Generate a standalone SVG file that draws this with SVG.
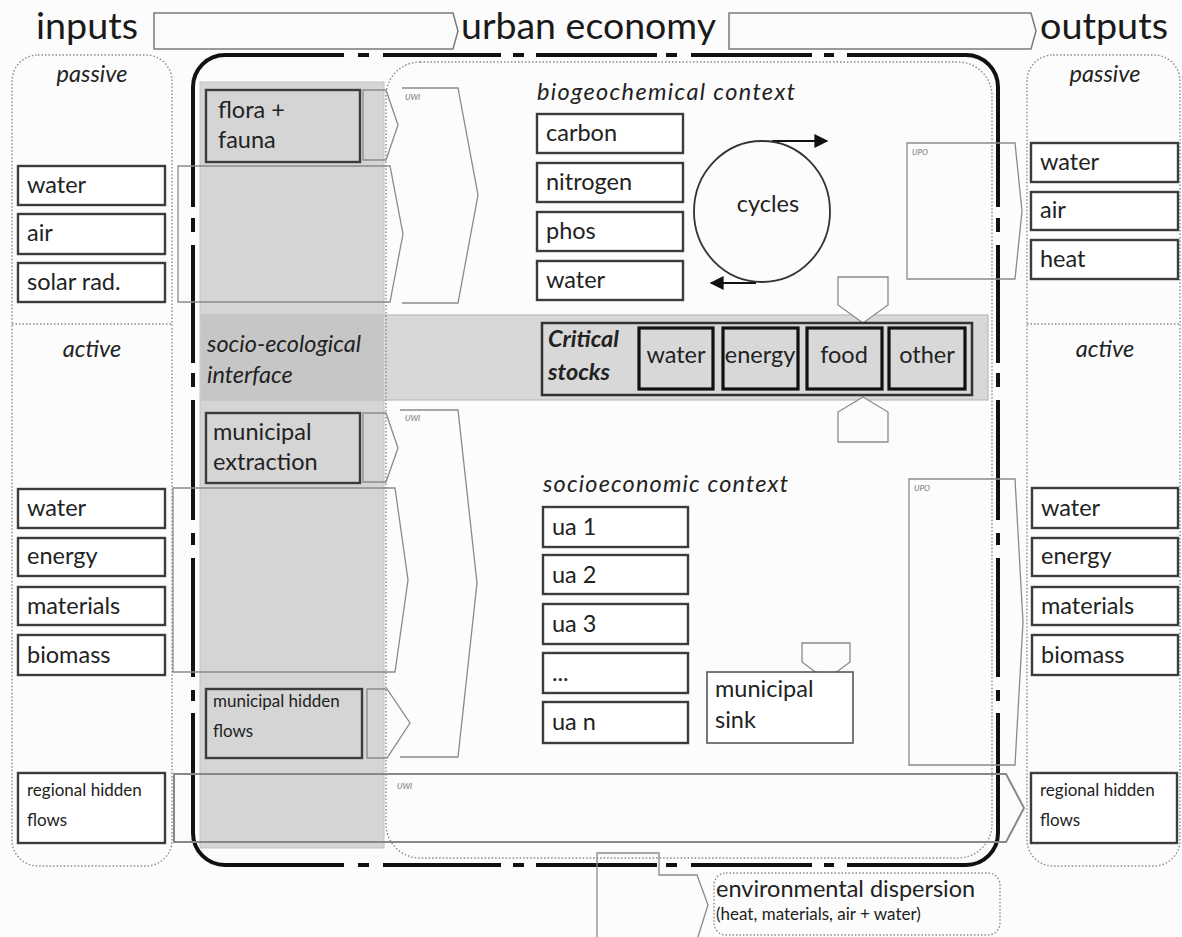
<svg xmlns="http://www.w3.org/2000/svg" width="1182" height="937" viewBox="0 0 1182 937">
<style>
.lbl{font-family:Lato,"Open Sans",sans-serif;font-size:23.5px;fill:#222}
.it{font-style:italic}
.bi{font-style:italic;font-weight:bold}
.sm{font-size:17px}
.hdr{font-size:36px;fill:#1a1a1a}
.tiny{font-family:Lato,sans-serif;font-size:8px;font-style:italic;fill:#777}
.box{fill:#fff;stroke:#3c3c3c;stroke-width:2.4}
.gbox{fill:none;stroke:#3c3c3c;stroke-width:2.4}
.stock{fill:none;stroke:#111;stroke-width:3.2}
.flow{fill:none;stroke:#8a8a8a;stroke-width:1.3}
.hflow{fill:#fbfbfb;stroke:#7a7a7a;stroke-width:1.5}
.dot{fill:none;stroke:#8a8a8a;stroke-width:1.4;stroke-dasharray:1.5 2}
.thick{fill:none;stroke:#111;stroke-width:4}
</style>
<defs>
<marker id="ah" viewBox="0 0 10 10" refX="9" refY="5" markerWidth="18" markerHeight="14" markerUnits="userSpaceOnUse" orient="auto">
<path d="M0,0 L10,5 L0,10 Z" fill="#111"/>
</marker>
</defs>
<rect width="1182" height="937" fill="#fcfcfc"/>

<!-- gray areas -->
<rect x="200" y="82" width="184" height="766" fill="#d5d5d5" stroke="#c2c2c2" stroke-width="1"/>
<rect x="202" y="315" width="786" height="85" fill="#d8d8d8" stroke="#bcbcbc" stroke-width="1.2"/>
<rect x="202" y="315" width="182" height="85" fill="#c6c6c6"/>

<!-- frames -->
<g id="frames">
<rect x="12" y="55" width="160" height="811" rx="26" class="dot"/>
<rect x="1027" y="55" width="153" height="811" rx="26" class="dot"/>
<line x1="12" y1="324" x2="172" y2="324" class="dot"/>
<line x1="1027" y1="324" x2="1180" y2="324" class="dot"/>
<rect x="386" y="62" width="606" height="796" rx="34" class="dot"/>
<rect x="714" y="873" width="286" height="62" rx="12" class="dot"/>
</g>

<g id="urban-economy-frame" class="thick">
<path d="M193,207 V87 A32,32 0 0 1 225,55 H344"/>
<path d="M358,55 H369 M383,55 H501 M513,55 H524 M536,55 H657 M666,55 H677 M691,55 H812 M824,55 H834"/>
<path d="M847,55 H966 A32,32 0 0 1 998,87 V207"/>
<path d="M998,218 V232 M998,245 V363 M998,373 V387 M998,400 V520 M998,533 V545 M998,558 V677 M998,690 V701"/>
<path d="M998,713 V833 A32,32 0 0 1 966,865 H847"/>
<path d="M834,865 H824 M812,865 H691 M677,865 H666 M657,865 H536 M524,865 H513 M501,865 H383 M369,865 H358"/>
<path d="M344,865 H225 A32,32 0 0 1 193,833 V713"/>
<path d="M193,701 V690 M193,677 V558 M193,545 V533 M193,520 V400 M193,387 V373 M193,363 V245 M193,232 V218"/>
</g>

<!-- connectors / flows -->
<g id="connectors">
<polygon class="hflow" points="154,13 453,13 458,31 453,49 154,49"/>
<polygon class="hflow" points="729,13 1031,13 1036,31 1031,49 729,49"/>
<polygon class="flow" points="178,166 390,166 403,234 390,302 178,302"/>
<polygon class="flow" points="363,90 386,90 398,125 386,160 363,160"/>
<polyline class="flow" points="402,88 458,88 478,195 458,303 402,303"/>
<polygon class="flow" points="173,488 395,488 408,580 395,672 173,672"/>
<polygon class="flow" points="363,413 386,413 398,448 386,482 363,482"/>
<polygon class="flow" points="367,689 387,689 410,723 387,758 367,758"/>
<polyline class="flow" points="400,410 458,410 477,583 458,757 400,757"/>
<polygon class="flow" style="stroke-width:2;stroke:#888" points="174,774 1006,774 1024,808 1006,842 174,842"/>
<polygon class="flow" points="907,143 1015,143 1022,211 1015,279 907,279"/>
<polygon class="flow" points="909,479 1015,479 1023,622 1015,765 909,765"/>
<polygon class="flow" style="fill:#fcfcfc" points="838,277 888,277 888,305 863,323 838,305"/>
<polygon class="flow" style="fill:#fcfcfc" points="863,397 888,412 888,442 838,442 838,412"/>
<path class="flow" d="M802,643 H850 V662 L838,671 Q826,678 814,671 L802,662 Z"/>
<polygon class="flow" points="597,853 659,853 659,875 697,875 708,905 697,940 597,940"/>
<line x1="772" y1="141" x2="827" y2="141" stroke="#111" stroke-width="1.8" marker-end="url(#ah)"/>
<line x1="756" y1="283" x2="711" y2="283" stroke="#111" stroke-width="1.8" marker-end="url(#ah)"/>
<text class="tiny" x="405" y="100">UWI</text>
<text class="tiny" x="405" y="421">UWI</text>
<text class="tiny" x="397" y="789">UWI</text>
<text class="tiny" x="912" y="155">UPO</text>
<text class="tiny" x="914" y="491">UPO</text>
</g>

<!-- header -->
<g id="header">
<text class="lbl hdr" x="36" y="39" textLength="102" lengthAdjust="spacingAndGlyphs">inputs</text>
<text class="lbl hdr" x="461" y="39" textLength="255" lengthAdjust="spacingAndGlyphs">urban economy</text>
<text class="lbl hdr" x="1040" y="39" textLength="128" lengthAdjust="spacingAndGlyphs">outputs</text>
</g>

<!-- left column -->
<g id="in-passive-label"><text class="lbl it" x="92" y="82" text-anchor="middle">passive</text></g>
<g id="in-water"><rect class="box" x="18" y="166" width="147" height="39"/><text class="lbl" x="27" y="193">water</text></g>
<g id="in-air"><rect class="box" x="18" y="214" width="147" height="40"/><text class="lbl" x="27" y="241">air</text></g>
<g id="in-solar"><rect class="box" x="18" y="263" width="147" height="39"/><text class="lbl" x="27" y="290">solar rad.</text></g>
<g id="in-active-label"><text class="lbl it" x="92" y="357" text-anchor="middle">active</text></g>
<g id="in-water2"><rect class="box" x="18" y="489" width="147" height="39"/><text class="lbl" x="27" y="516">water</text></g>
<g id="in-energy"><rect class="box" x="18" y="538" width="147" height="38"/><text class="lbl" x="27" y="564">energy</text></g>
<g id="in-materials"><rect class="box" x="18" y="587" width="147" height="38"/><text class="lbl" x="27" y="614">materials</text></g>
<g id="in-biomass"><rect class="box" x="18" y="635" width="147" height="40"/><text class="lbl" x="27" y="663">biomass</text></g>
<g id="in-regional"><rect class="box" x="18" y="773" width="147" height="70"/><text class="lbl sm" x="27" y="796">regional hidden</text><text class="lbl sm" x="27" y="826">flows</text></g>

<!-- gray column boxes -->
<g id="flora"><rect class="gbox" x="206" y="90" width="154" height="72"/><text class="lbl" x="218" y="118">flora +</text><text class="lbl" x="218" y="148">fauna</text></g>
<g id="interface"><text class="lbl it" x="207" y="352">socio-ecological</text><text class="lbl it" x="207" y="383">interface</text></g>
<g id="extraction"><rect class="gbox" x="206" y="413" width="154" height="70"/><text class="lbl" x="213" y="440">municipal</text><text class="lbl" x="213" y="470">extraction</text></g>
<g id="hidden"><rect class="gbox" x="206" y="689" width="156" height="69"/><text class="lbl sm" x="213" y="707">municipal hidden</text><text class="lbl sm" x="213" y="737">flows</text></g>

<!-- biogeochemical -->
<g id="bio-title"><text class="lbl it" x="537" y="100" textLength="258" lengthAdjust="spacing">biogeochemical  context</text></g>
<g id="carbon"><rect class="box" x="537" y="114" width="146" height="39"/><text class="lbl" x="546" y="141">carbon</text></g>
<g id="nitrogen"><rect class="box" x="537" y="163" width="146" height="39"/><text class="lbl" x="546" y="190">nitrogen</text></g>
<g id="phos"><rect class="box" x="537" y="212" width="146" height="39"/><text class="lbl" x="546" y="239">phos</text></g>
<g id="bwater"><rect class="box" x="537" y="261" width="146" height="39"/><text class="lbl" x="546" y="288">water</text></g>
<g id="cycles"><ellipse cx="762" cy="211.5" rx="68" ry="70.5" fill="none" stroke="#333" stroke-width="1.8"/><text class="lbl" x="768" y="212" text-anchor="middle">cycles</text></g>

<!-- critical stocks -->
<g id="critical-stocks">
<rect x="542" y="323" width="430" height="72" fill="none" stroke="#333" stroke-width="2.5"/>
<text class="lbl bi" x="548" y="347">Critical</text><text class="lbl bi" x="548" y="380">stocks</text>
</g>
<g id="cs-water"><rect class="stock" x="639" y="328" width="74" height="61"/><text class="lbl" x="676" y="363" text-anchor="middle">water</text></g>
<g id="cs-energy"><rect class="stock" x="723" y="328" width="75" height="61"/><text class="lbl" x="760" y="363" text-anchor="middle">energy</text></g>
<g id="cs-food"><rect class="stock" x="807" y="328" width="75" height="61"/><text class="lbl" x="844" y="363" text-anchor="middle">food</text></g>
<g id="cs-other"><rect class="stock" x="889" y="328" width="76" height="61"/><text class="lbl" x="927" y="363" text-anchor="middle">other</text></g>

<!-- socioeconomic -->
<g id="socio-title"><text class="lbl it" x="543" y="492" textLength="245" lengthAdjust="spacing">socioeconomic  context</text></g>
<g id="ua1"><rect class="box" x="543" y="507" width="145" height="40"/><text class="lbl" x="552" y="535">ua 1</text></g>
<g id="ua2"><rect class="box" x="543" y="555" width="145" height="39"/><text class="lbl" x="552" y="583">ua 2</text></g>
<g id="ua3"><rect class="box" x="543" y="604" width="145" height="40"/><text class="lbl" x="552" y="632">ua 3</text></g>
<g id="uadots"><rect class="box" x="543" y="653" width="145" height="40"/><text class="lbl" x="552" y="681">...</text></g>
<g id="uan"><rect class="box" x="543" y="702" width="145" height="41"/><text class="lbl" x="552" y="730">ua n</text></g>
<g id="sink"><rect x="707" y="672" width="146" height="71" fill="#fff" stroke="#555" stroke-width="1.6"/><text class="lbl" x="715" y="697">municipal</text><text class="lbl" x="715" y="728">sink</text></g>

<!-- right column -->
<g id="out-passive-label"><text class="lbl it" x="1105" y="82" text-anchor="middle">passive</text></g>
<g id="out-water"><rect class="box" x="1031" y="143" width="147" height="39"/><text class="lbl" x="1040" y="170">water</text></g>
<g id="out-air"><rect class="box" x="1031" y="192" width="147" height="38"/><text class="lbl" x="1040" y="218">air</text></g>
<g id="out-heat"><rect class="box" x="1031" y="240" width="147" height="39"/><text class="lbl" x="1040" y="267">heat</text></g>
<g id="out-active-label"><text class="lbl it" x="1105" y="357" text-anchor="middle">active</text></g>
<g id="out-water2"><rect class="box" x="1032" y="488" width="146" height="40"/><text class="lbl" x="1041" y="516">water</text></g>
<g id="out-energy"><rect class="box" x="1032" y="538" width="146" height="38"/><text class="lbl" x="1041" y="564">energy</text></g>
<g id="out-materials"><rect class="box" x="1032" y="587" width="146" height="38"/><text class="lbl" x="1041" y="614">materials</text></g>
<g id="out-biomass"><rect class="box" x="1032" y="635" width="146" height="40"/><text class="lbl" x="1041" y="663">biomass</text></g>
<g id="out-regional"><rect class="box" x="1031" y="773" width="146" height="70"/><text class="lbl sm" x="1040" y="796">regional hidden</text><text class="lbl sm" x="1040" y="826">flows</text></g>

<!-- environmental dispersion -->
<g id="env-dispersion"><text class="lbl" x="716" y="897">environmental dispersion</text><text class="lbl sm" x="716" y="920">(heat, materials, air + water)</text></g>
</svg>
